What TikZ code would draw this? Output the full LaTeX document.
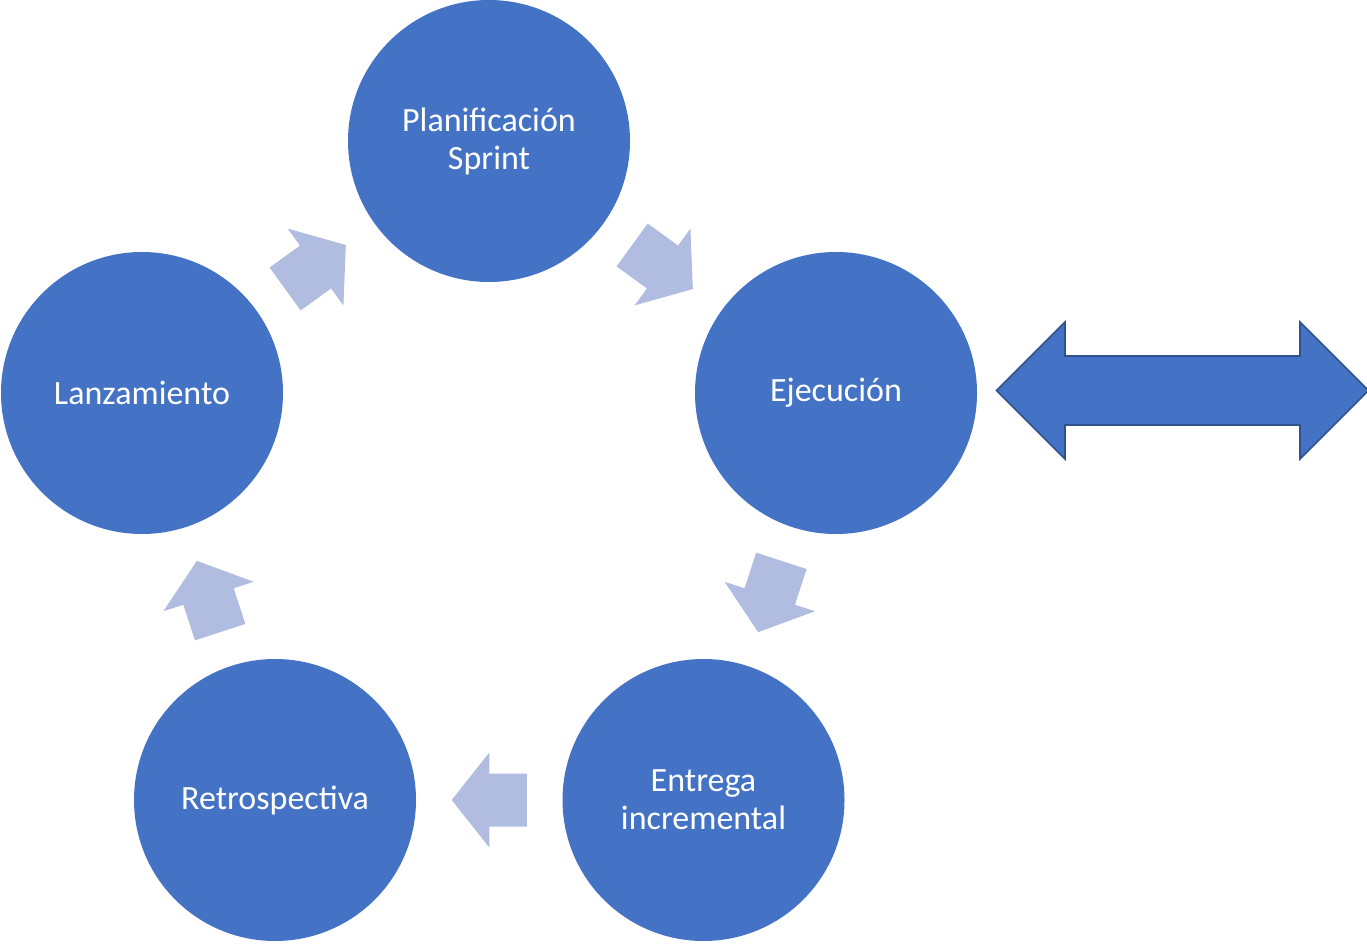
\documentclass[tikz,border=0pt]{standalone}
\usepackage{fontspec}
\setmainfont{Carlito}
\usetikzlibrary{calc}
\definecolor{circblue}{HTML}{4472C4}
\definecolor{arrowlight}{HTML}{B0BDE0}
\definecolor{darkedge}{HTML}{2F528F}
\tikzset{
  phase/.style={circle, fill=circblue, draw=none, minimum size=282pt, inner sep=0pt,
    text=white, align=center, font=\fontsize{34}{38}\selectfont},
  cycfill/.style={fill=arrowlight},
  bigarrow/.style={fill=circblue, draw=darkedge, line width=1.6pt, line join=miter}
}
\newcommand\cycarrow[2]{%
  \coordinate (m) at ($(#1)!0.5!(#2)$);
  \coordinate (t) at ($(m)!-37.5pt!(#2)$);
  \fill[cycfill] ($(t)!26.5pt!90:(m)$) -- ($(m)!26.5pt!90:(#2)$) -- ($(m)!47.5pt!90:(#2)$)
    -- ($(m)!37.5pt!(#2)$) -- ($(m)!47.5pt!-90:(#2)$) -- ($(m)!26.5pt!-90:(#2)$)
    -- ($(t)!26.5pt!-90:(m)$) -- cycle;}
\begin{document}
\begin{tikzpicture}[x=1pt,y=-1pt]
\useasboundingbox (0,0) rectangle (1367,944);
\node[phase] (P) at (489,141) {Planificación\\Sprint};
\node[phase] (E) at (836,393) {Ejecución};
\node[phase] (I) at (703.5,800) {Entrega\\incremental};
\node[phase] (R) at (275,800) {Retrospectiva};
\node[phase] (L) at (142,393) {Lanzamiento};
\cycarrow{L}{P}
\cycarrow{P}{E}
\cycarrow{E}{I}
\cycarrow{I}{R}
\cycarrow{R}{L}
\draw[bigarrow] (996.5,390.5) -- (1065,322) -- (1065,356) -- (1300,356) -- (1300,322)
  -- (1368.5,390.5) -- (1300,459) -- (1300,425) -- (1065,425) -- (1065,459) -- cycle;
\end{tikzpicture}
\end{document}
